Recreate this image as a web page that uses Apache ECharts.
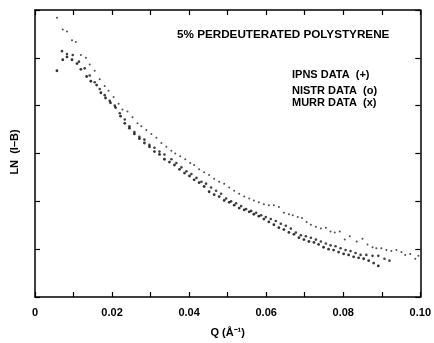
<!DOCTYPE html>
<html>
<head>
<meta charset="utf-8">
<script src="https://cdn.jsdelivr.net/npm/echarts@6/dist/echarts.min.js"></script>
<style>html,body{margin:0;padding:0;background:#fff}#c{width:434px;height:343px}</style>
</head>
<body>
<div id="c"></div>
<script>
const titleText = "5% PERDEUTERATED POLYSTYRENE";
const legendLines = ["IPNS DATA  (+)", "NISTR DATA  (o)", "MURR DATA  (x)"];
const xAxisName = "Q (\u00C5\u207B\u00B9)";
const yAxisName = "LN  (I\u2013B)";
const xTicks = [0, 0.02, 0.04, 0.06, 0.08, 0.10];

const ipns = [[0.0057,5.84],[0.0072,5.59],[0.0083,5.55],[0.0096,5.37],[0.0106,5.33],[0.0119,5.06],[0.0132,5.00],[0.0142,4.86],[0.0155,4.73],[0.0168,4.55],[0.0181,4.41],[0.0191,4.31],[0.0204,4.18],[0.0217,4.04],[0.0227,3.92],[0.0240,3.88],[0.0253,3.76],[0.0266,3.63],[0.0276,3.57],[0.0289,3.49],[0.0302,3.41],[0.0315,3.33],[0.0328,3.22],[0.0341,3.14],[0.0354,3.06],[0.0364,3.00],[0.0377,2.94],[0.0390,2.88],[0.0403,2.80],[0.0413,2.76],[0.0426,2.67],[0.0439,2.61],[0.0452,2.55],[0.0465,2.47],[0.0478,2.41],[0.0491,2.37],[0.0504,2.29],[0.0517,2.22],[0.0530,2.16],[0.0543,2.10],[0.0556,2.06],[0.0568,2.02],[0.0581,1.98],[0.0594,1.94],[0.0607,1.92],[0.0620,1.92],[0.0633,1.88],[0.0646,1.76],[0.0659,1.73],[0.0669,1.71],[0.0682,1.67],[0.0693,1.65],[0.0705,1.57],[0.0716,1.51],[0.0729,1.47],[0.0742,1.43],[0.0755,1.45],[0.0767,1.37],[0.0778,1.35],[0.0791,1.37],[0.0804,1.20],[0.0817,1.27],[0.0835,1.16],[0.0850,1.22],[0.0863,1.10],[0.0876,1.04],[0.0886,1.02],[0.0899,1.02],[0.0912,0.98],[0.0925,0.96],[0.0938,0.98],[0.0951,0.94],[0.0961,0.88],[0.0974,0.90],[0.0987,0.80],[0.0995,0.86]];

const nistr = [[0.0070,5.14],[0.0083,5.08],[0.0098,5.06],[0.0114,4.92],[0.0129,4.78],[0.0142,4.63],[0.0155,4.49],[0.0168,4.35],[0.0181,4.22],[0.0194,4.10],[0.0207,4.00],[0.0220,3.84],[0.0233,3.71],[0.0245,3.57],[0.0258,3.45],[0.0271,3.35],[0.0284,3.29],[0.0297,3.18],[0.0310,3.12],[0.0323,3.04],[0.0336,2.98],[0.0354,2.88],[0.0367,2.80],[0.0380,2.71],[0.0393,2.63],[0.0406,2.57],[0.0419,2.49],[0.0432,2.41],[0.0444,2.37],[0.0457,2.29],[0.0470,2.22],[0.0483,2.16],[0.0496,2.06],[0.0509,2.00],[0.0522,1.96],[0.0535,1.90],[0.0548,1.84],[0.0561,1.80],[0.0574,1.76],[0.0587,1.71],[0.0599,1.67],[0.0612,1.63],[0.0625,1.59],[0.0638,1.53],[0.0651,1.49],[0.0664,1.43],[0.0677,1.35],[0.0690,1.29],[0.0703,1.27],[0.0716,1.24],[0.0729,1.20],[0.0742,1.16],[0.0755,1.12],[0.0767,1.08],[0.0780,1.06],[0.0793,1.02],[0.0806,0.98],[0.0819,0.96],[0.0832,0.92],[0.0845,0.88],[0.0860,0.88],[0.0876,0.86],[0.0891,0.86],[0.0907,0.80],[0.0920,0.76]];

const murr = [[0.0057,4.73],[0.0072,4.96],[0.0083,5.02],[0.0096,4.96],[0.0109,4.88],[0.0119,4.76],[0.0134,4.61],[0.0145,4.51],[0.0160,4.43],[0.0171,4.27],[0.0183,4.16],[0.0196,4.06],[0.0209,3.96],[0.0222,3.78],[0.0233,3.63],[0.0245,3.53],[0.0258,3.41],[0.0271,3.31],[0.0284,3.22],[0.0297,3.14],[0.0310,3.04],[0.0323,2.98],[0.0336,2.88],[0.0349,2.82],[0.0362,2.76],[0.0375,2.67],[0.0388,2.59],[0.0401,2.53],[0.0413,2.45],[0.0426,2.39],[0.0439,2.31],[0.0452,2.20],[0.0465,2.14],[0.0478,2.10],[0.0491,2.02],[0.0504,1.98],[0.0517,1.92],[0.0530,1.86],[0.0543,1.82],[0.0556,1.78],[0.0568,1.73],[0.0581,1.69],[0.0594,1.63],[0.0607,1.57],[0.0620,1.51],[0.0633,1.45],[0.0646,1.41],[0.0659,1.35],[0.0672,1.31],[0.0685,1.24],[0.0698,1.20],[0.0711,1.16],[0.0724,1.14],[0.0736,1.10],[0.0749,1.04],[0.0762,1.00],[0.0775,0.98],[0.0788,0.94],[0.0801,0.90],[0.0814,0.88],[0.0827,0.84],[0.0840,0.82],[0.0853,0.80],[0.0866,0.76],[0.0879,0.71],[0.0891,0.65]];

const chart = echarts.init(document.getElementById('c'), null, {renderer: 'canvas'});
const FONT = 'Liberation Sans, Arial, sans-serif';
const axisLine = {show: true, onZero: false, lineStyle: {color: '#000', width: 1.5}};
const tick = {show: true, inside: true, length: 5, lineStyle: {color: '#000', width: 1.2}};
function xLabel(v) {
  const i = xTicks.findIndex(t => Math.abs(t - v) < 1e-9);
  if (i < 0) return '';
  return v === 0 ? '0' : xTicks[i].toFixed(2);
}
const txt = {fontFamily: FONT, fontWeight: 'bold', fill: '#000'};
chart.setOption({
  animation: false,
  backgroundColor: '#fff',
  grid: {left: 35, right: 12, top: 10, bottom: 39, containLabel: false},
  graphic: [
    {type: 'text', left: 177, top: 29, style: Object.assign({text: titleText, fontSize: 11.7}, txt)},
    {type: 'text', left: 292, top: 69, style: Object.assign({text: legendLines[0], fontSize: 11}, txt)},
    {type: 'text', left: 292, top: 85, style: Object.assign({text: legendLines[1], fontSize: 11}, txt)},
    {type: 'text', left: 292, top: 97, style: Object.assign({text: legendLines[2], fontSize: 11}, txt)},
    {type: 'text', x: 15, y: 152, rotation: Math.PI / 2,
     style: Object.assign({text: yAxisName, fontSize: 11, align: 'center', verticalAlign: 'middle'}, txt)}
  ],
  xAxis: [
    {type: 'value', position: 'bottom', min: 0, max: 0.1, interval: 0.01,
     axisLine, axisTick: tick, splitLine: {show: false},
     axisLabel: {formatter: xLabel, color: '#000', fontFamily: FONT, fontSize: 11, fontWeight: 'bold', margin: 10, showMaxLabel: true, showMinLabel: true},
     name: xAxisName, nameLocation: 'middle', nameGap: 30,
     nameTextStyle: {fontFamily: FONT, fontSize: 11, fontWeight: 'bold', color: '#000'}},
    {type: 'value', position: 'top', min: 0, max: 0.1, interval: 0.01,
     axisLine, axisTick: tick, splitLine: {show: false}, axisLabel: {show: false}}
  ],
  yAxis: [
    {type: 'value', position: 'left', min: 0, max: 6, interval: 1,
     axisLine, axisTick: tick, splitLine: {show: false}, axisLabel: {show: false}},
    {type: 'value', position: 'right', min: 0, max: 6, interval: 1,
     axisLine, axisTick: tick, splitLine: {show: false}, axisLabel: {show: false}}
  ],
  series: [
    {name: 'IPNS', type: 'scatter', data: ipns, symbol: 'circle', symbolSize: 2, itemStyle: {color: '#222'}},
    {name: 'NISTR', type: 'scatter', data: nistr, symbol: 'circle', symbolSize: 2.6, itemStyle: {color: '#111'}},
    {name: 'MURR', type: 'scatter', data: murr, symbol: 'circle', symbolSize: 2.8, itemStyle: {color: '#000'}}
  ]
});
</script>
</body>
</html>
